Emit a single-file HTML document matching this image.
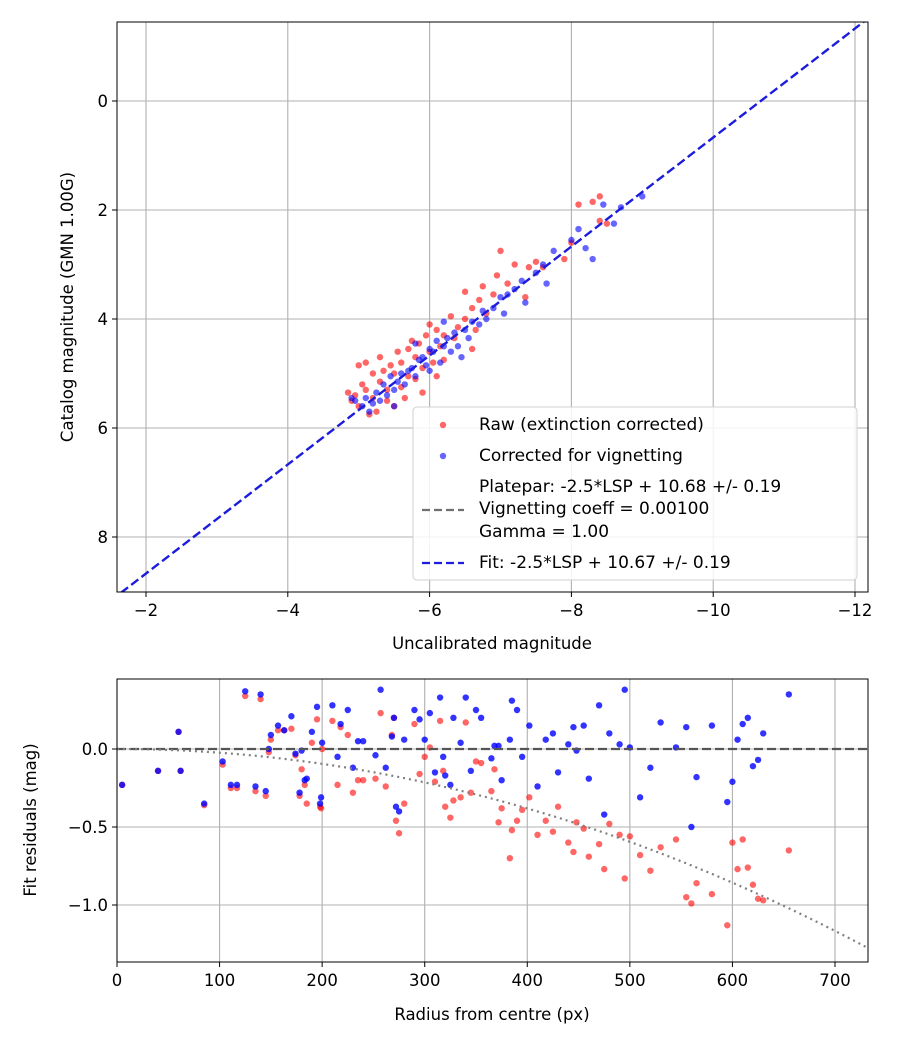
<!DOCTYPE html>
<html><head><meta charset="utf-8"><style>
body{margin:0;background:#fff;}
svg{font-family:"DejaVu Sans","Liberation Sans",sans-serif;}
</style></head><body>
<svg id="c" width="900" height="1050" xmlns="http://www.w3.org/2000/svg"></svg>
<script>
const topRawX=[-4.9,-4.95,-5.0,-5.05,-5.0,-5.1,-5.1,-5.2,-5.2,-5.25,-5.3,-5.3,-5.35,-5.4,-5.45,-5.5,-5.5,-5.55,-5.6,-5.6,-5.7,-5.7,-5.75,-5.8,-5.8,-5.85,-5.9,-5.95,-6.0,-6.0,-6.05,-6.1,-6.15,-6.2,-6.3,-6.35,-6.4,-6.5,-6.5,-6.6,-6.65,-6.7,-6.75,-6.8,-6.9,-6.95,-7.0,-7.1,-7.2,-7.35,-7.4,-7.5,-7.6,-7.9,-8.0,-8.1,-8.3,-8.4,-8.5,-8.4,-6.2,-5.4,-5.9,-6.6,-6.1,-5.65,-4.85,-5.15];
const topRawY=[5.5,5.4,5.6,5.2,4.85,4.8,5.3,5.0,5.45,5.7,4.7,5.15,4.95,5.3,4.85,5.0,5.6,4.6,4.8,5.25,4.55,5.05,4.4,4.7,5.1,4.45,4.9,4.3,4.6,4.1,4.8,4.2,4.5,4.3,3.95,4.35,4.15,4.0,3.5,3.8,4.2,3.65,3.4,3.9,3.55,3.2,2.75,3.35,3.0,3.6,3.05,2.95,3.05,2.9,2.6,1.9,1.85,2.2,2.25,1.75,4.75,5.5,5.35,4.55,5.05,5.45,5.35,5.75];
const topCorX=[-4.95,-5.05,-5.1,-5.2,-5.25,-5.3,-5.35,-5.4,-5.45,-5.5,-5.55,-5.6,-5.65,-5.7,-5.75,-5.8,-5.85,-5.9,-5.95,-6.0,-6.0,-6.05,-6.1,-6.15,-6.2,-6.25,-6.3,-6.35,-6.4,-6.5,-6.55,-6.6,-6.7,-6.75,-6.8,-6.9,-7.0,-7.05,-7.1,-7.2,-7.3,-7.35,-7.5,-7.6,-7.65,-7.75,-8.0,-8.2,-8.3,-8.1,-8.6,-8.7,-9.0,-8.45,-5.15,-4.9,-5.5,-6.45,-6.2,-5.8];
const topCorY=[5.5,5.6,5.45,5.55,5.35,5.5,5.2,5.4,5.05,5.3,5.15,5.0,5.2,4.95,4.9,5.05,4.75,4.7,4.85,4.55,4.95,4.6,4.4,4.8,4.5,4.35,4.6,4.25,4.5,4.2,4.35,4.05,4.1,3.85,4.0,3.8,3.6,3.9,3.55,3.45,3.3,3.7,3.15,3.0,3.35,2.75,2.55,2.7,2.9,2.35,2.25,1.95,1.75,1.9,5.7,5.45,5.6,4.7,4.05,4.45];
const topXTicks=[-2,-4,-6,-8,-10,-12];
const topYTicks=[0,2,4,6,8];
const fitIntercept=10.67;
const resRadius=[5,40,60,62,85,103,111,117,125,135,140,145,148,150,157,163,170,174,178,180,183,185,190,195,198,199,200,210,215,218,225,230,235,240,252,257,262,268,270,272,275,280,290,295,300,305,310,315,318,320,325,328,335,340,345,350,355,365,368,372,375,383,385,390,395,402,410,418,425,430,440,445,448,455,460,470,475,480,490,495,500,510,520,530,545,555,560,565,580,595,600,605,610,615,620,625,630,655];
const resCor=[-0.23,-0.14,0.11,-0.14,-0.35,-0.08,-0.23,-0.23,0.37,-0.24,0.35,-0.27,0.0,0.09,0.15,0.12,0.21,-0.03,-0.28,-0.01,-0.2,-0.19,0.11,0.27,-0.35,-0.31,0.04,0.28,-0.05,0.16,0.25,-0.12,0.05,0.05,-0.04,0.38,-0.12,0.08,0.2,-0.37,-0.4,0.06,0.25,0.19,0.06,0.23,-0.15,0.33,-0.05,-0.17,-0.23,0.2,0.04,0.33,-0.14,0.25,0.2,-0.06,0.02,0.02,-0.2,0.06,0.31,0.25,-0.05,0.15,-0.24,0.06,0.1,-0.15,0.03,0.14,-0.01,0.15,-0.19,0.28,-0.42,0.1,0.03,0.38,0.01,-0.31,-0.12,0.17,0.01,0.14,-0.5,-0.18,0.15,-0.34,-0.21,0.06,0.16,0.2,-0.11,-0.07,0.1,0.35];
const resRaw=[-0.23,-0.14,0.11,-0.14,-0.36,-0.1,-0.25,-0.25,0.34,-0.27,0.32,-0.3,-0.02,0.06,0.12,0.12,0.13,-0.04,-0.3,-0.13,-0.23,-0.35,0.04,0.19,-0.37,-0.38,0.0,0.18,-0.23,0.14,0.09,-0.28,-0.2,-0.2,-0.19,0.23,-0.24,0.09,0.2,-0.46,-0.54,-0.35,0.16,-0.16,-0.05,0.01,-0.21,0.18,-0.14,-0.37,-0.44,-0.33,-0.31,0.17,-0.28,-0.08,-0.09,-0.27,-0.13,-0.47,-0.38,-0.7,-0.52,-0.46,-0.39,-0.31,-0.55,-0.46,-0.53,-0.37,-0.6,-0.66,-0.47,-0.51,-0.69,-0.61,-0.77,-0.48,-0.55,-0.83,-0.56,-0.68,-0.78,-0.63,-0.58,-0.95,-0.99,-0.86,-0.93,-1.13,-0.6,-0.77,-0.58,-0.76,-0.87,-0.96,-0.97,-0.65];
const botXTicks=[0,100,200,300,400,500,600,700];
const botYTicks=[0.0,-0.5,-1.0];
const vignK=2.38e-6;

const S=document.getElementById('c'),NS='http://www.w3.org/2000/svg';
function el(t,a,p){const e=document.createElementNS(NS,t);for(const k in a)e.setAttribute(k,a[k]);(p||S).appendChild(e);return e;}
const T={l:117,r:868,t:22,b:592};
const tx=v=>146+(-2-v)*70.9, ty=v=>101+v*54.5;
const B={l:117,r:868,t:679,b:962};
const bx=v=>117+v*1.0257, by=v=>749-v*156;
function frameAndGrid(A,xt,yt,fx,fy,fmtx,fmty,name){
  const g=el('g',{});
  
  
  xt.forEach(v=>{const x=fx(v);
    const l=el('line',{x1:x,x2:x,y1:A.t,y2:A.b,stroke:'#b0b0b0','stroke-width':1.1},g);
    
    el('line',{x1:x,x2:x,y1:A.b,y2:A.b+5,stroke:'#000','stroke-width':1},g);
    const t=el('text',{x:x,y:A.b+24,'font-size':16.5,'text-anchor':'middle'},g);t.textContent=fmtx(v);
    });
  yt.forEach(v=>{const y=fy(v);
    const l=el('line',{x1:A.l,x2:A.r,y1:y,y2:y,stroke:'#b0b0b0','stroke-width':1.1},g);
    
    el('line',{x1:A.l-5,x2:A.l,y1:y,y2:y,stroke:'#000','stroke-width':1},g);
    const t=el('text',{x:A.l-9,y:y+6,'font-size':16.5,'text-anchor':'end'},g);t.textContent=fmty(v);
    });
  return g;
}
const m=v=>v<0?'\u2212'+Math.abs(v):String(v);
frameAndGrid(T,topXTicks,topYTicks,tx,ty,m,m,'top');
frameAndGrid(B,botXTicks,botYTicks,bx,by,m,v=>v<0?'\u2212'+Math.abs(v).toFixed(1):v.toFixed(1),'bottom');
const defs=el('defs',{});
const cp=el('clipPath',{id:'ct'},defs);el('rect',{x:T.l,y:T.t,width:T.r-T.l,height:T.b-T.t},cp);
const cp2=el('clipPath',{id:'cb'},defs);el('rect',{x:B.l,y:B.t,width:B.r-B.l,height:B.b-B.t},cp2);
const gt=el('g',{'clip-path':'url(#ct)'});
topRawX.forEach((v,i)=>{const c=el('circle',{cx:tx(v),cy:ty(topRawY[i]),r:3.2,fill:'#ff0000','fill-opacity':0.6},gt);
  });
topCorX.forEach((v,i)=>{const c=el('circle',{cx:tx(v),cy:ty(topCorY[i]),r:3.2,fill:'#0000ff','fill-opacity':0.6},gt);
  });
const fl=el('line',{x1:tx(-1.5),y1:ty(-1.5+fitIntercept),x2:tx(-12.3),y2:ty(-12.3+fitIntercept),stroke:'#1c1cdc','stroke-width':2.4,'stroke-dasharray':'9,4'},gt);

el('rect',{x:T.l,y:T.t,width:T.r-T.l,height:T.b-T.t,fill:'none',stroke:'#000','stroke-width':1});
const lg=el('g',{});

el('rect',{x:413,y:407,width:444,height:173,rx:4,fill:'#fff','fill-opacity':0.85,stroke:'#d0d0d0'},lg);
el('circle',{cx:443,cy:425,r:3.2,fill:'#ff0000','fill-opacity':0.6},lg);
el('circle',{cx:443,cy:456,r:3.2,fill:'#0000ff','fill-opacity':0.6},lg);
el('line',{x1:422,x2:464,y1:510,y2:510,stroke:'#707070','stroke-width':2.2,'stroke-dasharray':'8,4'},lg);
el('line',{x1:422,x2:464,y1:563,y2:563,stroke:'#1c1cdc','stroke-width':2.2,'stroke-dasharray':'8,4'},lg);
[['Raw (extinction corrected)',430],['Corrected for vignetting',461],['Platepar: -2.5*LSP + 10.68 +/- 0.19',492],['Vignetting coeff = 0.00100',514],['Gamma = 1.00',537],['Fit: -2.5*LSP + 10.67 +/- 0.19',568]].forEach(a=>{
  const t=el('text',{x:479,y:a[1],'font-size':17},lg);t.textContent=a[0];
  });
const gb=el('g',{'clip-path':'url(#cb)'});
resRadius.forEach((v,i)=>{const c=el('circle',{cx:bx(v),cy:by(resRaw[i]),r:3.2,fill:'#ff0000','fill-opacity':0.6},gb);
  });
resRadius.forEach((v,i)=>{const c=el('circle',{cx:bx(v),cy:by(resCor[i]),r:3.2,fill:'#0000ff','fill-opacity':0.8},gb);
  });
const zl=el('line',{x1:B.l,x2:B.r,y1:by(0),y2:by(0),stroke:'#555','stroke-width':2.2,'stroke-dasharray':'9,4'},gb);

let pts=[];for(let r=0;r<=735;r+=5)pts.push(bx(r)+','+by(-vignK*r*r));
const vl=el('polyline',{points:pts.join(' '),fill:'none',stroke:'#808080','stroke-width':2.2,'stroke-dasharray':'2,4'},gb);

el('rect',{x:B.l,y:B.t,width:B.r-B.l,height:B.b-B.t,fill:'none',stroke:'#000','stroke-width':1});
function title(txt,x,y,rot,name){const t=el('text',{x:x,y:y,'font-size':16.5,'text-anchor':'middle'});
  if(rot)t.setAttribute('transform','rotate(-90 '+x+' '+y+')');t.textContent=txt;
  }
title('Uncalibrated magnitude',492,649,false,'top-x-axis-title');
title('Catalog magnitude (GMN 1.00G)',73,307,true,'top-y-axis-title');
title('Radius from centre (px)',492,1020,false,'bottom-x-axis-title');
title('Fit residuals (mag)',36,820,true,'bottom-y-axis-title');
</script>
</body></html>
